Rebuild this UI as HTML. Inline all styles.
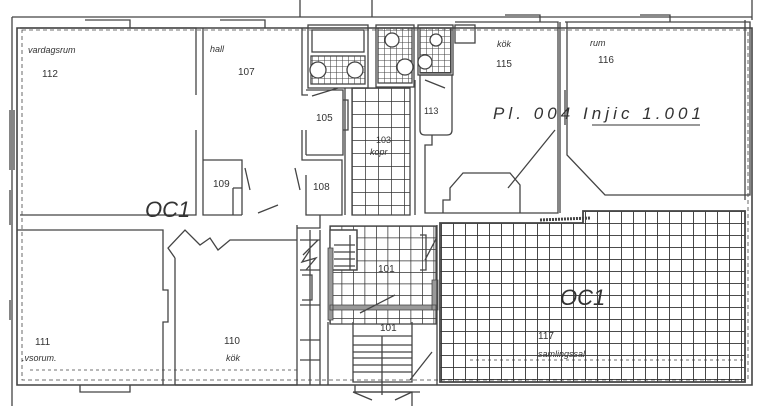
<!DOCTYPE html>
<html><head><meta charset="utf-8"><style>
html,body{margin:0;padding:0;background:#fff;width:768px;height:406px;overflow:hidden}
svg{display:block}
text{font-family:"Liberation Sans",sans-serif;fill:#333}
.i{font-style:italic}
</style></head><body>
<svg width="768" height="406" viewBox="0 0 768 406" xmlns="http://www.w3.org/2000/svg">
<defs>
<pattern id="g12" width="12" height="12" patternUnits="userSpaceOnUse" x="441" y="211">
<path d="M0 0H12M0 0V12" stroke="#333" stroke-width="1.8" fill="none"/></pattern>
<pattern id="g11" width="11.5" height="11.5" patternUnits="userSpaceOnUse" x="330" y="226">
<path d="M0 0H12M0 0V12" stroke="#333" stroke-width="1.5" fill="none"/></pattern>
<pattern id="g13" width="13" height="13" patternUnits="userSpaceOnUse" x="352" y="88">
<path d="M0 0H13M0 0V13" stroke="#333" stroke-width="1.5" fill="none"/></pattern>
<pattern id="g6" width="6" height="6" patternUnits="userSpaceOnUse">
<path d="M0 0H6M0 0V6" stroke="#444" stroke-width="1.1" fill="none"/></pattern>
</defs>
<g fill="none" stroke="#444" stroke-width="1.3">
<path d="M12 17H752M12 17V406M752 0V20M745 20V200"/>
<path d="M17 28H752V385H17Z" stroke-width="1.6"/>
<path d="M22 30H748V380H22Z" stroke-dasharray="4 3" stroke-width="0.8"/>
<path d="M85 20H130V28M220 20H265V28M505 15H540V22M640 15H670V22M80 385V392H130V385M355 385V392H420M300 0V17M372 0V17M80 392H130"/>
<path d="M10 110V170M14 110V170M10 190V225M10 300V320"/>
<path d="M20 28H196V95M196 130V215H20"/>
<path d="M203 28V160H242V215M203 160V215H242M302 28V95H308M302 130V160H306M245 168L250 190M295 168L300 190M258 213L278 205"/>
<path d="M233 188H242M233 188V215"/>
<path d="M306 90H343V155H306M306 130V155M306 160H342V215H306V175M343 90V100H348V130H343V155"/>
<path d="M312 96L338 88"/>
<rect x="308" y="25" width="60" height="63"/>
<rect x="312" y="30" width="52" height="22"/>
<rect x="311" y="56" width="54" height="28" fill="url(#g6)"/>
<circle cx="318" cy="70" r="8" fill="#fff"/><circle cx="355" cy="70" r="8" fill="#fff"/>
<rect x="376" y="25" width="38" height="62"/>
<rect x="378" y="28" width="34" height="55" fill="url(#g6)"/>
<circle cx="392" cy="40" r="7" fill="#fff"/><circle cx="405" cy="67" r="8" fill="#fff"/>
<rect x="418" y="25" width="35" height="50"/>
<rect x="420" y="28" width="31" height="45" fill="url(#g6)"/>
<circle cx="436" cy="40" r="6" fill="#fff"/><circle cx="425" cy="62" r="7" fill="#fff"/>
<path d="M420 75H452V130Q452 135 447 135H425Q420 135 420 130Z"/>
<path d="M425 80L445 88"/>
<rect x="352" y="88" width="58" height="127" fill="url(#g13)"/>
<path d="M345 88V215M415 80V215"/>
<path d="M455 22H558V213H425V145H432V135"/>
<rect x="455" y="25" width="20" height="18"/>
<path d="M443 213V200H450V188L463 173H510L520 185V213M508 188L555 130M560 22V213"/>
<path d="M565 22H750V195H605L567 155V22M565 90V125"/>
<path d="M440 223H583V211H745V382H440Z" fill="url(#g12)" stroke-width="1.8"/>
<path d="M540 220L590 218" stroke-width="3" stroke-dasharray="2 1"/>
<rect x="330" y="226" width="106" height="98" fill="url(#g11)"/>
<rect x="330" y="230" width="27" height="40" fill="#fff"/>
<path d="M330 230H357V270H330M334 245H355M334 252H355M334 259H355M334 266H355M350 235V270"/>
<path d="M328 248H333V320H328ZM330 305H436V310H330ZM432 280H438V310H432Z" fill="#999" stroke-width="0.8"/>
<path d="M420 235H426V270H420M360 313L395 295M425 260L437 237"/>
<path d="M328 322V385M437 225V385M353 322V382H412V322M353 336H412M353 345H412M353 352H412M353 358H412M353 365H412M353 372H412M382 336V395M410 380L432 352M353 392H412V406M353 392L372 400M412 392L395 400"/>
<path d="M17 230H163V290H168V322H163V385M175 258V385M175 258L168 248L185 230L200 245L210 238L218 250L230 240H297V225M297 240V385H175M297 228H320V215"/>
<path d="M310 230V385M320 230V385M300 240H320M300 270H320M300 305H320M300 340H320M300 360H320M303 255L318 240M302 275H312V300H302"/>
<path d="M310 250L302 262L316 258L306 270"/>
<path d="M30 370H300" stroke-dasharray="3 3" stroke-width="0.8"/>
<path d="M470 360H745" stroke-dasharray="3 3" stroke-width="0.8"/>
</g>
<g font-size="10">
<text x="28" y="53" class="i" font-size="9">vardagsrum</text>
<text x="42" y="77">112</text>
<text x="210" y="52" class="i" font-size="9">hall</text>
<text x="238" y="75">107</text>
<text x="316" y="121">105</text>
<text x="213" y="187">109</text>
<text x="313" y="190">108</text>
<text x="376" y="143" font-size="9">103</text>
<text x="370" y="155" class="i" font-size="9">kopr</text>
<text x="424" y="114" font-size="9">113</text>
<text x="497" y="47" class="i" font-size="9">kök</text>
<text x="496" y="67">115</text>
<text x="590" y="46" class="i" font-size="9">rum</text>
<text x="598" y="63">116</text>
<text x="35" y="345">111</text>
<text x="22" y="361" class="i" font-size="9">.vsorum.</text>
<text x="224" y="344">110</text>
<text x="226" y="361" class="i" font-size="9">kök</text>
<text x="378" y="272">101</text>
<text x="380" y="331">101</text>
<text x="538" y="339">117</text>
<text x="538" y="357" class="i" font-size="9">samlingssal</text>
</g>
<text x="145" y="217" font-size="22" class="i" fill="#444">OC1</text>
<text x="560" y="305" font-size="22" class="i" fill="#999">OC1</text>
<text x="493" y="119" font-size="17" class="i" fill="#444" textLength="208">Pl. 004 Injic 1.001</text>
<path d="M592 125H700" stroke="#333" fill="none"/>
</svg>
</body></html>
